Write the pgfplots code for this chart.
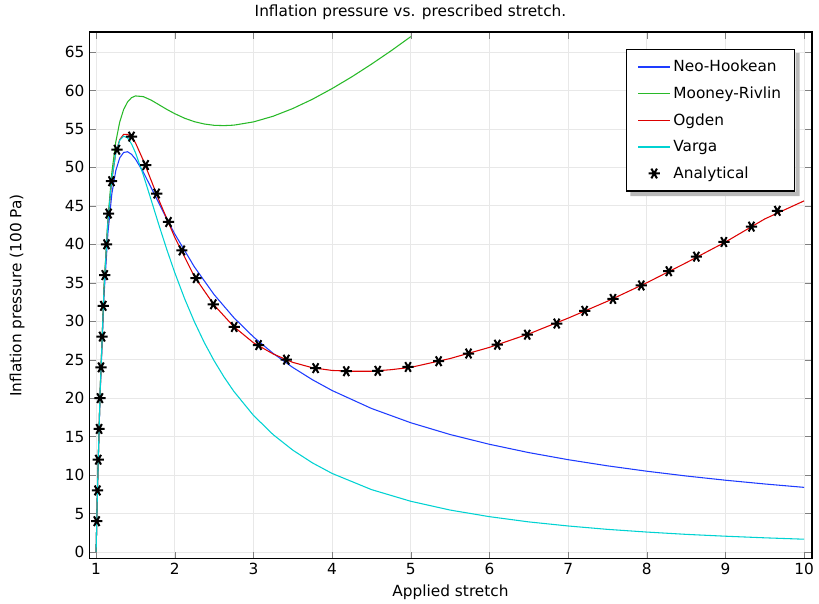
\documentclass[border=0pt]{standalone}
\usepackage{fontspec}
\setmainfont{DejaVu Sans}
\usepackage{pgfplots}
\pgfplotsset{compat=1.18}
\usetikzlibrary{calc}
\definecolor{nhblue}{RGB}{30,60,255}
\definecolor{mrgreen}{RGB}{40,185,40}
\definecolor{ogred}{RGB}{220,0,0}
\definecolor{vcyan}{RGB}{0,210,210}
\begin{document}
\begin{tikzpicture}
\begin{axis}[
  scale only axis, width=542pt, height=395pt,
  xmin=0.91, xmax=10.1, ymin=-0.9, ymax=67.6,
  xtick={1,2,...,10}, ytick={0,5,...,65},
  tick align=inside, major tick length=5pt,
  grid=major, grid style={gray!18, line width=0.6pt},
  axis line style={line width=0.8pt},
  font=\fontsize{11.5}{13}\selectfont,
  /pgf/number format/assume math mode=true,
  title={Inflation pressure vs. prescribed stretch.},
  title style={xshift=-30pt},
  xlabel={Applied stretch},
  ylabel={Inflation pressure (100 Pa)},
  ylabel style={at={(axis description cs:-0.0996,0.5)}, anchor=center},
  legend cell align=left,
  legend image code/.code={\draw[mark repeat=2,mark phase=2,#1] plot coordinates {(0cm,0cm) (0.42cm,0cm) (0.84cm,0cm)};},
  legend image post style={line width=0.9pt},
  legend style={name=leg, at={(1,1)}, anchor=north east, xshift=-12.75pt, yshift=-12.75pt,
    draw=black, line width=0.8pt, fill=white,
    row sep=5.8pt, inner xsep=8pt, inner ysep=6pt,
    font=\fontsize{11.5}{13}\selectfont},
]
\coordinate (bl) at (rel axis cs:0,0);
\coordinate (tr) at (rel axis cs:1,1);
% Neo-Hookean
\addplot[nhblue, line width=0.8pt] coordinates {
(1.00,0) (1.01,4.82) (1.02,9.23) (1.05,20.30) (1.10,33.26) (1.15,41.46) (1.20,46.56)
(1.25,49.58) (1.30,51.23) (1.35,51.94) (1.40,52.03) (1.45,51.70) (1.50,51.08)
(1.60,49.37) (1.70,47.36) (1.80,45.30) (1.90,43.27) (2.00,41.34) (2.25,37.05) (2.50,33.46)
(2.75,30.47) (3.00,27.96) (3.25,25.82) (3.50,23.99) (3.75,22.39) (4.00,20.99) (4.50,18.66) (5.00,16.80)
(5.50,15.27) (6.00,14.00) (6.50,12.92) (7.00,12.00) (7.50,11.20) (8.00,10.50) (8.50,9.88) (9.00,9.33) (9.50,8.84) (10.00,8.40)};
\addlegendentry{Neo-Hookean}
% Mooney-Rivlin
\addplot[mrgreen, line width=0.8pt] coordinates {
(1.00,0) (1.01,4.86) (1.02,9.32) (1.05,20.67) (1.10,34.30) (1.15,43.34) (1.20,49.35)
(1.25,53.31) (1.30,55.89) (1.35,57.53) (1.40,58.51) (1.45,59.06) (1.50,59.29)
(1.60,59.20) (1.70,58.74) (1.80,58.14) (1.90,57.53) (2.00,56.98) (2.125,56.39) (2.25,55.94) (2.375,55.64) (2.50,55.47)
(2.625,55.43) (2.75,55.49) (3.00,55.91) (3.25,56.65) (3.50,57.65) (3.75,58.86) (4.00,60.25) (4.25,61.77) (4.50,63.42) (4.75,65.16) (5.00,67.00)};
\addlegendentry{Mooney-Rivlin}
% Ogden
\addplot[ogred, line width=0.8pt] coordinates {
(1.00,0) (1.01,4.8) (1.02,9.3) (1.05,20.5) (1.10,34.2) (1.15,42.9) (1.20,48.4)
(1.25,51.9) (1.30,53.6) (1.35,54.3) (1.40,54.3) (1.45,53.9) (1.50,53.2)
(1.60,50.9) (1.70,48.3) (1.80,45.7) (2.00,40.9) (2.25,35.8) (2.50,32.1)
(2.75,29.3) (3.00,27.2) (3.25,25.75) (3.50,24.65) (3.75,23.95) (4.00,23.6) (4.25,23.5) (4.50,23.5) (4.75,23.7) (5.00,24.0)
(5.50,25.15) (6.00,26.6) (6.50,28.35) (7.00,30.4) (7.50,32.6) (8.00,35.0)
(8.50,37.6) (9.00,40.3) (9.50,43.3) (10.00,45.65)};
\addlegendentry{Ogden}
% Varga
\addplot[vcyan, line width=0.8pt] coordinates {
(1.00,0) (1.01,4.79) (1.02,9.20) (1.05,20.50) (1.10,34.12) (1.15,42.99) (1.20,48.57)
(1.25,51.85) (1.30,53.52) (1.35,54.06) (1.40,53.83) (1.45,53.05) (1.50,51.92)
(1.60,49.01) (1.70,45.75) (1.80,42.45) (1.90,39.28) (2.00,36.31) (2.125,32.93) (2.25,29.91) (2.375,27.23) (2.50,24.86)
(2.625,22.76) (2.75,20.89) (3.00,17.76) (3.25,15.26) (3.50,13.24) (3.75,11.58) (4.00,10.21) (4.50,8.11) (5.00,6.59)
(5.50,5.45) (6.00,4.59) (6.50,3.91) (7.00,3.38) (7.50,2.94) (8.00,2.59) (8.50,2.29) (9.00,2.05) (9.50,1.84) (10.00,1.66)};
\addlegendentry{Varga}
% Analytical
\addplot[only marks, mark=asterisk, mark size=4.2pt, mark options={black, line width=1.5pt, rotate=90}] coordinates {
(1.008,4) (1.017,8) (1.027,12) (1.038,16) (1.049,20) (1.062,24) (1.076,28) (1.091,32)
(1.110,36) (1.132,40) (1.159,44) (1.195,48.2) (1.265,52.3) (1.45,54.0) (1.63,50.3)
(1.77,46.6) (1.92,42.9) (2.09,39.2) (2.27,35.6) (2.49,32.2) (2.755,29.25) (3.065,26.9)
(3.418,25.0) (3.79,23.9) (4.18,23.5) (4.58,23.55) (4.965,24.05) (5.354,24.8)
(5.734,25.8) (6.10,26.95) (6.48,28.25) (6.855,29.7) (7.21,31.35) (7.57,32.9)
(7.93,34.65) (8.28,36.5) (8.63,38.4) (8.98,40.3) (9.33,42.3) (9.66,44.35)};
\addlegendentry{Analytical}
\end{axis}
\fill[gray!55] ($(leg.south west)+(3pt,-0.4pt)$) -- ($(leg.south west)+(3pt,-3.4pt)$) -- ($(leg.south east)+(3.4pt,-3.4pt)$) -- ($(leg.north east)+(3.4pt,-3pt)$) -- ($(leg.north east)+(0.4pt,-3pt)$) -- ($(leg.south east)+(0.4pt,-0.4pt)$) -- cycle;
\path[use as bounding box] ($(bl)+(-66.75pt,-33.75pt)$) rectangle ($(tr)+(5.25pt,21pt)$);
\end{tikzpicture}
\end{document}
